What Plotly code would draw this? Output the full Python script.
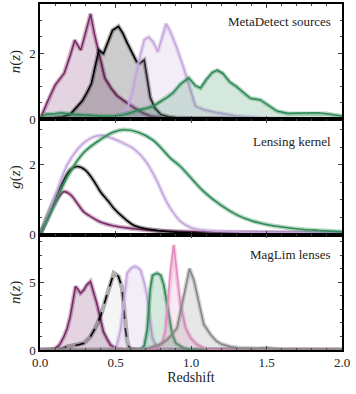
import plotly.graph_objects as go
from plotly.subplots import make_subplots

# ---- MetaDetect source n(z) ----
src1_z = [0, 0.05, 0.1, 0.16, 0.2, 0.23, 0.27, 0.3, 0.335, 0.36, 0.39, 0.43, 0.47, 0.51, 0.56, 0.62, 0.68, 0.73, 0.8, 0.9, 1.0, 1.2, 1.5, 2.0]
src1_n = [0, 0.55, 1.04, 1.4, 1.94, 2.4, 2.1, 2.6, 3.2, 2.6, 2.05, 1.25, 0.95, 0.72, 0.55, 0.36, 0.2, 0.1, 0.05, 0.03, 0.02, 0.01, 0.0, 0.0]

src2_z = [0, 0.05, 0.1, 0.15, 0.2, 0.24, 0.28, 0.31, 0.34, 0.37, 0.39, 0.42, 0.45, 0.48, 0.52, 0.55, 0.58, 0.61, 0.64, 0.66, 0.69, 0.71, 0.73, 0.76, 0.8, 0.85, 0.9, 1.0, 1.2, 1.5, 2.0]
src2_n = [0, 0.03, 0.05, 0.08, 0.15, 0.35, 0.56, 0.8, 1.08, 1.7, 2.1, 2.0, 2.35, 2.7, 2.82, 2.6, 2.3, 2.0, 1.75, 1.7, 1.8, 1.25, 0.67, 0.35, 0.15, 0.08, 0.05, 0.03, 0.01, 0, 0]

src3_z = [0, 0.3, 0.45, 0.5, 0.55, 0.58, 0.61, 0.645, 0.67, 0.69, 0.72, 0.75, 0.78, 0.81, 0.835, 0.86, 0.9, 0.95, 1.0, 1.03, 1.08, 1.15, 1.3, 1.5, 1.7, 2.0]
src3_n = [0, 0.02, 0.05, 0.1, 0.2, 0.36, 0.8, 1.59, 2.1, 2.41, 2.5, 2.35, 2.05, 2.5, 2.9, 2.7, 2.25, 1.59, 0.85, 0.4, 0.3, 0.22, 0.1, 0.03, 0.01, 0]

src4_z = [0, 0.04, 0.1, 0.14, 0.22, 0.3, 0.4, 0.49, 0.55, 0.6, 0.65, 0.7, 0.75, 0.8, 0.84, 0.88, 0.93, 0.985, 1.03, 1.063, 1.1, 1.14, 1.173, 1.21, 1.26, 1.3, 1.35, 1.394, 1.46, 1.52, 1.57, 1.64, 1.7, 1.78, 1.84, 1.9, 1.95, 2.0]
src4_n = [0.05, 0.15, 0.17, 0.2, 0.15, 0.12, 0.1, 0.1, 0.14, 0.2, 0.28, 0.33, 0.4, 0.55, 0.66, 0.8, 1.07, 1.26, 1.02, 0.95, 1.2, 1.42, 1.49, 1.4, 1.12, 1.0, 0.8, 0.64, 0.59, 0.4, 0.25, 0.18, 0.18, 0.19, 0.2, 0.17, 0.13, 0.1]

# ---- lensing kernels g(z) ----
g1_z = [0, 0.05, 0.1, 0.158, 0.2, 0.25, 0.29, 0.35, 0.4, 0.5, 0.62, 0.75, 0.93, 1.2, 1.5, 2.0]
g1_v = [0, 0.45, 0.9, 1.23, 1.15, 0.88, 0.65, 0.48, 0.36, 0.24, 0.17, 0.12, 0.09, 0.07, 0.06, 0.05]

g2_z = [0, 0.05, 0.1, 0.15, 0.2, 0.246, 0.3, 0.35, 0.4, 0.45, 0.49, 0.55, 0.62, 0.7, 0.776, 0.9, 1.1, 1.5, 2.0]
g2_v = [0, 0.55, 1.05, 1.5, 1.85, 1.95, 1.85, 1.58, 1.23, 0.97, 0.75, 0.5, 0.27, 0.17, 0.12, 0.07, 0.04, 0.03, 0.02]

g3_z = [0, 0.05, 0.1, 0.18, 0.25, 0.3, 0.35, 0.4, 0.45, 0.5, 0.55, 0.62, 0.7, 0.776, 0.82, 0.864, 0.93, 1.0, 1.1, 1.3, 1.6, 2.0]
g3_v = [0, 0.55, 1.1, 2.0, 2.45, 2.66, 2.79, 2.84, 2.8, 2.72, 2.62, 2.46, 2.1, 1.52, 1.1, 0.75, 0.38, 0.2, 0.12, 0.08, 0.06, 0.05]

g4_z = [0, 0.05, 0.1, 0.18, 0.29, 0.4, 0.48, 0.555, 0.65, 0.75, 0.864, 0.93, 1.0, 1.085, 1.195, 1.306, 1.4, 1.526, 1.65, 1.745, 1.85, 2.0]
g4_v = [0, 0.45, 0.9, 1.65, 2.35, 2.72, 2.92, 3.0, 2.93, 2.7, 2.19, 1.95, 1.62, 1.23, 0.85, 0.56, 0.4, 0.27, 0.19, 0.15, 0.12, 0.08]

# ---- MagLim lens n(z) ----
lens1_z = [0, 0.05, 0.07, 0.1, 0.13, 0.158, 0.18, 0.2, 0.22, 0.235, 0.25, 0.268, 0.29, 0.31, 0.334, 0.355, 0.379, 0.4, 0.42, 0.445, 0.467, 0.49, 0.51, 0.55, 2.0]
lens1_n = [0, 0, 0.02, 0.1, 0.4, 0.98, 1.6, 2.46, 3.8, 4.68, 4.5, 4.19, 4.43, 4.8, 5.05, 4.3, 3.33, 2.3, 1.35, 0.8, 0.37, 0.2, 0.1, 0.02, 0]

lens2_z = [0, 0.1, 0.15, 0.18, 0.22, 0.25, 0.29, 0.31, 0.334, 0.37, 0.4, 0.44, 0.47, 0.489, 0.505, 0.52, 0.544, 0.555, 0.566, 0.577, 0.588, 0.6, 0.65, 2.0]
lens2_n = [0, 0.02, 0.1, 0.25, 0.33, 0.37, 0.5, 0.7, 0.98, 1.7, 2.46, 3.94, 5.0, 5.67, 5.55, 5.42, 4.56, 3.0, 1.48, 0.7, 0.25, 0.1, 0.02, 0]

lens3_z = [0, 0.45, 0.49, 0.51, 0.533, 0.555, 0.577, 0.6, 0.625, 0.645, 0.666, 0.69, 0.71, 0.727, 0.743, 0.76, 0.776, 0.8, 0.85, 2.0]
lens3_n = [0, 0, 0.1, 0.4, 1.48, 3.8, 5.67, 6.0, 6.16, 6.1, 5.9, 5.0, 3.94, 2.4, 0.98, 0.5, 0.25, 0.08, 0.02, 0]

lens4_z = [0, 0.66, 0.69, 0.71, 0.73, 0.745, 0.775, 0.8, 0.82, 0.84, 0.855, 0.875, 0.9, 0.95, 1.0, 2.0]
lens4_n = [0, 0, 0.3, 1.5, 4.5, 5.5, 5.67, 5.5, 4.8, 3.6, 2.6, 1.2, 0.5, 0.15, 0.03, 0]

lens5_z = [0, 0.7, 0.75, 0.776, 0.81, 0.83, 0.846, 0.864, 0.886, 0.908, 0.93, 0.964, 0.997, 1.04, 1.085, 1.13, 2.0]
lens5_n = [0, 0, 0.05, 0.15, 0.52, 1.4, 3.38, 5.87, 7.74, 5.37, 3.38, 1.64, 0.9, 0.4, 0.15, 0.03, 0]

lens6_z = [0, 0.65, 0.7, 0.75, 0.8, 0.84, 0.875, 0.908, 0.94, 0.975, 0.99, 1.02, 1.04, 1.063, 1.085, 1.13, 1.17, 1.2, 1.26, 1.32, 1.39, 1.45, 1.5, 1.55, 1.6, 1.7, 2.0]
lens6_n = [0, 0, 0.05, 0.25, 0.45, 0.75, 1.14, 1.64, 3.38, 5.37, 6.0, 5.13, 4.13, 2.89, 1.89, 1.14, 0.65, 0.45, 0.25, 0.15, 0.1, 0.12, 0.15, 0.08, 0.02, 0, 0]

PURPLE = (122, 42, 103)
BLACK = (0, 0, 0)
LAV = (196, 166, 221)
GREEN = (45, 138, 85)
PINK = (228, 138, 192)
GREY = (135, 135, 135)


def rgba(c, a):
    return f"rgba({c[0]},{c[1]},{c[2]},{a})"


fig = make_subplots(rows=3, cols=1, shared_xaxes=True, vertical_spacing=0)


def curve(z, v, col, row, fill=0.2, shape="linear", dash="solid", band=0.35):
    if fill:
        fig.add_trace(go.Scatter(x=z, y=v, mode="lines", line=dict(width=0, shape=shape),
                                 fill="tozeroy", fillcolor=rgba(col, fill),
                                 hoverinfo="skip"), row=row, col=1)
    fig.add_trace(go.Scatter(x=z, y=v, mode="lines",
                             line=dict(color=rgba(col, band) if col != BLACK else "rgba(0,0,0,0.3)",
                                       width=4.5, shape=shape)), row=row, col=1)
    fig.add_trace(go.Scatter(x=z, y=v, mode="lines",
                             line=dict(color=rgba(col, 1), width=1.6, shape=shape, dash=dash)),
                  row=row, col=1)


curve(src1_z, src1_n, PURPLE, 1)
curve(src2_z, src2_n, BLACK, 1)
curve(src3_z, src3_n, LAV, 1)
curve(src4_z, src4_n, GREEN, 1)

curve(g1_z, g1_v, PURPLE, 2, fill=0, shape="spline")
curve(g2_z, g2_v, BLACK, 2, fill=0, shape="spline")
curve(g3_z, g3_v, LAV, 2, fill=0, shape="spline")
curve(g4_z, g4_v, GREEN, 2, fill=0, shape="spline")

curve(lens1_z, lens1_n, PURPLE, 3)
curve(lens2_z, lens2_n, BLACK, 3, fill=0.04, dash="dash")
curve(lens3_z, lens3_n, LAV, 3)
curve(lens4_z, lens4_n, GREEN, 3)
curve(lens5_z, lens5_n, PINK, 3)
curve(lens6_z, lens6_n, GREY, 3)

FONT = "Liberation Serif, DejaVu Serif, serif"
axis_common = dict(showline=True, linewidth=1.5, linecolor="black", mirror="allticks",
                   ticks="inside", ticklen=4, tickwidth=1, tickcolor="#444",
                   showgrid=False, zeroline=False, automargin=False,
                   tickfont=dict(family=FONT, size=13, color="#222"))

for r in (1, 2, 3):
    fig.update_xaxes(range=[0, 2], dtick=0.5, tickformat=".1f",
                     minor=dict(dtick=0.1, ticks="inside", ticklen=2, tickcolor="#444"),
                     showticklabels=(r == 3), row=r, col=1, **axis_common)

ttl_font = dict(family=FONT, size=15, color="#222")
fig.update_yaxes(range=[0, 3.5], dtick=2, minor=dict(dtick=0.5, ticks="inside", ticklen=2, tickcolor="#444"),
                 title=dict(text="<i>n</i>(<i>z</i>)", standoff=5, font=ttl_font), row=1, col=1, **axis_common)
fig.update_yaxes(range=[0, 3.3], dtick=2, minor=dict(dtick=0.5, ticks="inside", ticklen=2, tickcolor="#444"),
                 title=dict(text="<i>g</i>(<i>z</i>)", standoff=5, font=ttl_font), row=2, col=1, **axis_common)
fig.update_yaxes(range=[0, 8.5], dtick=5, minor=dict(dtick=1, ticks="inside", ticklen=2, tickcolor="#444"),
                 title=dict(text="<i>n</i>(<i>z</i>)", standoff=5, font=ttl_font), row=3, col=1, **axis_common)
fig.update_xaxes(title=dict(text="Redshift", standoff=2, font=dict(family=FONT, size=14, color="#222")),
                 row=3, col=1)

for txt, yy in [("MetaDetect sources", 0.948), ("Lensing kernel", 0.604), ("MagLim lenses", 0.275)]:
    fig.add_annotation(text=txt, xref="paper", yref="paper", x=0.97, y=yy,
                       xanchor="right", yanchor="middle", showarrow=False,
                       font=dict(family=FONT, size=13, color="#222"))

fig.update_layout(width=356, height=394, margin=dict(l=40, r=14, t=4, b=44, autoexpand=False),
                  plot_bgcolor="white", paper_bgcolor="white", showlegend=False,
                  font=dict(family=FONT, size=13, color="#222"))

# drop the default page margin so the figure sits at the window's corner
fig.write_html("out.html", config={"displayModeBar": False},
               post_script="document.body.style.margin='0';")
